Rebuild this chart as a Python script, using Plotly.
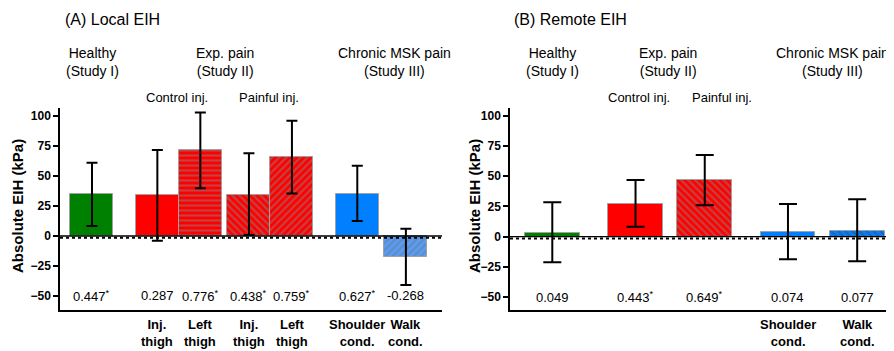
import plotly.graph_objects as go

# ---------------- data ----------------
# Panel A: Local EIH
a_cats = ["Healthy", "Control inj. - Inj. thigh", "Control inj. - Left thigh",
          "Painful inj. - Inj. thigh", "Painful inj. - Left thigh",
          "Shoulder cond.", "Walk cond."]
a_mean = [34.7, 33.9, 71.7, 34.0, 65.8, 35.3, -17.2]
a_upper = [61.0, 71.7, 103.0, 68.9, 96.0, 58.6, 6.1]
a_lower = [8.3, -3.9, 39.7, 0.8, 35.5, 12.5, -40.8]
a_effect = ["0.447*", "0.287", "0.776*", "0.438*", "0.759*", "0.627*", "-0.268"]
a_xlabels = ["", "Inj.<br>thigh", "Left<br>thigh", "Inj.<br>thigh", "Left<br>thigh",
             "Shoulder<br>cond.", "Walk<br>cond."]

# Panel B: Remote EIH
b_cats = ["Healthy", "Control inj.", "Painful inj.", "Shoulder cond.", "Walk cond."]
b_mean = [3.3, 27.3, 46.6, 3.9, 4.7]
b_upper = [28.4, 46.9, 67.5, 27.0, 30.9]
b_lower = [-21.2, 8.3, 25.9, -18.7, -20.3]
b_effect = ["0.049", "0.443*", "0.649*", "0.074", "0.077"]
b_xlabels = ["", "", "", "Shoulder<br>cond.", "Walk<br>cond."]

y_ticks = [100, 75, 50, 25, 0, -25, -50]

# ---------------- styling ----------------
FONT = "Liberation Sans, Arial, sans-serif"
GREEN, RED, BLUE, LBLUE = "#008000", "#ff0000", "#0080ff", "#5a9cf0"
a_colors = [GREEN, RED, RED, RED, RED, BLUE, LBLUE]
a_shapes = ["", "", "-", "\\", "/", "", "/"]
a_fg = ["#888", "#888", "#858585", "#858585", "#858585", "#888", "#62799e"]
b_colors = [GREEN, RED, RED, BLUE, BLUE]
b_shapes = ["", "", "\\", "", "\\"]
b_fg = ["#888", "#888", "#858585", "#888", "#3a4a70"]

# gap (in bar widths) before each bar -> positions
a_gaps = [0, 0.52, 0, 0.13, 0, 0.52, 0.13]
b_gaps = [0, 0.515, 0.26, 0.515, 0.26]


def positions(gaps):
    out, cur = [], 0.0
    for i, g in enumerate(gaps):
        if i > 0:
            cur += 1 + g
        out.append(cur)
    return out


a_x = positions(a_gaps)
b_x = positions(b_gaps)

# page body has an 8px margin -> shrink figure and map reference pixels
OFF = 8
W, H = 894 - OFF, 351 - OFF


def px(xp):
    return (xp - OFF) / W


def py(yp):
    return 1 - (yp - OFF) / H


def fmt(s):
    return s.replace("*", "<sup>*</sup>")


fig = go.Figure()


def add_panel(xs, mean, up, lo, colors, shapes, fg, xa, ya, capw):
    for xv, m, u, l, c, s, f in zip(xs, mean, up, lo, colors, shapes, fg):
        marker = dict(color=c, line=dict(color="#a0a0a0", width=1))
        if s:
            marker["pattern"] = dict(shape=s, fgcolor=f, bgcolor=c, size=5,
                                     solidity=0.42, fillmode="overlay")
        fig.add_trace(go.Bar(
            x=[xv], y=[m], width=1.0, xaxis=xa, yaxis=ya, marker=marker,
            error_y=dict(type="data", symmetric=False, array=[u - m],
                         arrayminus=[m - l], color="black", thickness=2, width=capw),
            showlegend=False, hoverinfo="skip"))


add_panel(a_x, a_mean, a_upper, a_lower, a_colors, a_shapes, a_fg, "x", "y", 5.5)
add_panel(b_x, b_mean, b_upper, b_lower, b_colors, b_shapes, b_fg, "x2", "y2", 9)

ydom = [py(310), py(108)]
axis_common = dict(showline=True, linecolor="black", linewidth=1.5,
                   showgrid=False, zeroline=False)
yax_common = dict(axis_common, tickvals=y_ticks, ticks="outside", ticklen=5,
                  tickwidth=1.5, tickcolor="black",
                  tickfont=dict(family=FONT, size=12, color="black", weight="bold"),
                  domain=ydom)

fig.update_layout(
    width=W, height=H, margin=dict(l=0, r=0, t=0, b=0),
    paper_bgcolor="white", plot_bgcolor="white", bargap=0, barmode="overlay",
    font=dict(family=FONT, color="black"),
    xaxis=dict(axis_common, domain=[px(60), px(442)], range=[-0.744, 8.14],
               showticklabels=False, ticks=""),
    yaxis=dict(yax_common, range=[-61.7, 106.7], anchor="x"),
    xaxis2=dict(axis_common, domain=[px(510), 1.0], range=[-0.77, 6.22],
                showticklabels=False, ticks="", anchor="y2"),
    yaxis2=dict(yax_common, range=[-60.6, 106.4], anchor="x2"),
)

# zero lines
for xr, yr in [("x domain", "y"), ("x2 domain", "y2")]:
    fig.add_shape(type="line", xref=xr, yref=yr, x0=0, x1=1, y0=0, y1=0,
                  line=dict(color="black", width=1.3))
    fig.add_shape(type="line", xref=xr, yref=yr, x0=0, x1=1, y0=-1.4, y1=-1.4,
                  line=dict(color="black", width=2, dash="dot"))

ann = []


def txt(text, x, y, xref, yref, size, bold=False, xanchor="center", yanchor="middle", angle=0):
    ann.append(dict(text=text, x=x, y=y, xref=xref, yref=yref, showarrow=False,
                    xanchor=xanchor, yanchor=yanchor, textangle=angle,
                    font=dict(family=FONT, size=size, color="black",
                              weight="bold" if bold else "normal")))


# effect sizes and category labels
for xv, e, lab in zip(a_x, a_effect, a_xlabels):
    txt(fmt(e), xv, -50, "x", "y", 13)
    if lab:
        txt(lab, xv, py(333), "x", "paper", 13, bold=True)
for xv, e, lab in zip(b_x, b_effect, b_xlabels):
    txt(fmt(e), xv, -50, "x2", "y2", 13)
    if lab:
        txt(lab, xv, py(333), "x2", "paper", 13, bold=True)

txt("(A) Local EIH", px(63), py(20), "paper", "paper", 16, xanchor="left")
txt("(B) Remote EIH", px(512), py(20), "paper", "paper", 16, xanchor="left")

txt("Healthy<br>(Study I)", px(92), py(62), "paper", "paper", 14)
txt("Exp. pain<br>(Study II)", px(225), py(62), "paper", "paper", 14)
txt("Chronic MSK pain<br>(Study III)", px(394), py(62), "paper", "paper", 14)
txt("Control inj.", px(177), py(98), "paper", "paper", 13)
txt("Painful inj.", px(269), py(98), "paper", "paper", 13)

txt("Healthy<br>(Study I)", px(552), py(62), "paper", "paper", 14)
txt("Exp. pain<br>(Study II)", px(668), py(62), "paper", "paper", 14)
txt("Chronic MSK pain<br>(Study III)", px(832), py(62), "paper", "paper", 14)
txt("Control inj.", px(639), py(98), "paper", "paper", 13)
txt("Painful inj.", px(722), py(98), "paper", "paper", 13)

txt("Absolute EIH (kPa)", px(17), py(206), "paper", "paper", 15, bold=True, angle=-90)
txt("Absolute EIH (kPa)", px(474), py(206), "paper", "paper", 15, bold=True, angle=-90)

fig.update_layout(annotations=ann)
fig.write_html("out.html")
